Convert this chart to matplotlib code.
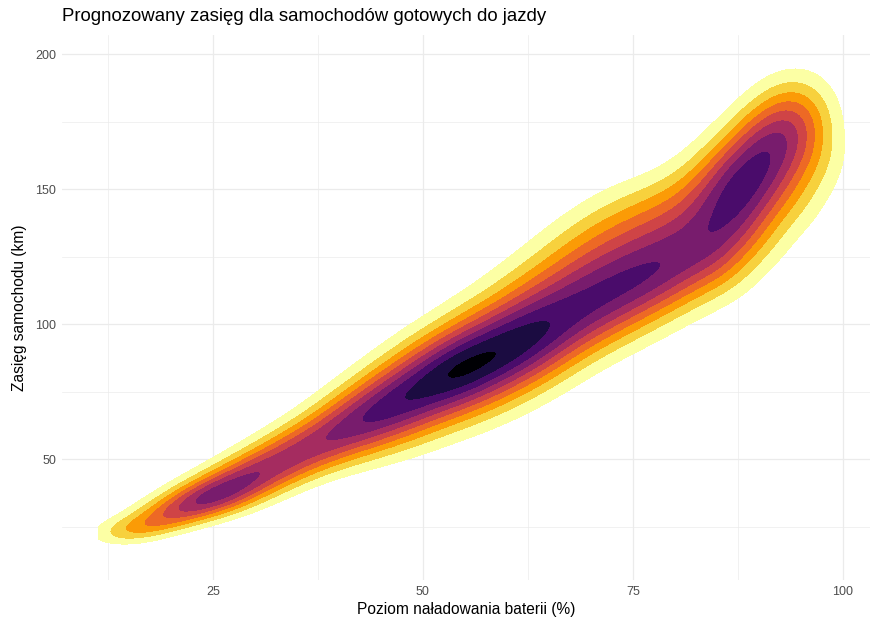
import numpy as np
import matplotlib.pyplot as plt

plt.rcParams['font.family'] = ['Liberation Sans', 'DejaVu Sans']

# skupiska obserwacji: poziom baterii, zasięg, liczność, rozrzut zasięgu
obs_x = [14, 16.5, 19, 21.5, 24, 26.5, 29, 31.5, 34, 36.5, 39, 41.5, 44, 46.5,
         49, 51.5, 54, 56.5, 59, 61.5, 64, 66.5, 69, 71.5, 74, 76.5, 79, 81.5,
         84, 86, 88, 90, 92, 94, 96,
         56, 60, 63.5, 67, 70.5, 74, 78, 82, 86, 90, 93.5,
         86, 90, 94, 97]
obs_y = [21.5, 25, 28.5, 32, 35.5, 39, 43, 47, 51, 55, 59, 63, 67, 71,
         75, 79, 82.5, 85.5, 89, 92.5, 96.5, 101, 105.5, 109.5, 113.5, 117.5, 121.5, 125,
         131, 140, 149, 157, 164, 171, 177,
         100, 108, 115, 123, 130, 136, 141, 148, 157, 168, 178,
         122, 133, 146, 160]
obs_w = [0.35, 0.52, 0.61, 0.76, 0.90, 0.89, 0.82, 0.72, 0.68, 0.67, 0.68, 0.74, 0.79, 0.82,
         0.84, 0.87, 0.95, 0.88, 0.86, 0.84, 0.80, 0.74, 0.70, 0.70, 0.70, 0.70, 0.68, 0.64,
         0.62, 0.70, 0.72, 0.65, 0.50, 0.42, 0.30,
         0.10, 0.18, 0.26, 0.33, 0.36, 0.38, 0.40, 0.40, 0.38, 0.36, 0.33,
         0.25, 0.28, 0.28, 0.22]
obs_sy = [3, 3, 3.5, 4, 4.5, 5, 5.5, 6, 6.5, 7, 7.8, 8.6, 9.5, 10.3,
          11, 11.5, 11.5, 12, 12, 12, 12, 12, 12, 12, 12, 12, 12, 12,
          12, 12, 12, 12, 12, 12, 12,
          11, 11, 11, 11, 11, 11, 10, 10, 10, 10, 10,
          10, 10, 10, 10]

x_range = (11.4, 101.5)
y_range = (14.4, 197.8)

gx, gy = np.meshgrid(np.linspace(*x_range, 320), np.linspace(*y_range, 320))
dens = np.zeros_like(gx)
sx = 3.0
for x0, y0, w, sy in zip(obs_x, obs_y, obs_w, obs_sy):
    dens += w * np.exp(-0.5 * (((gx - x0) / sx) ** 2 + ((gy - y0) / sy) ** 2))
dens /= dens.max()

step = 1 / 10.2
levels = [step * k for k in range(1, 11)] + [1.01]
colors = plt.cm.inferno(np.linspace(1, 0, 10))

fig = plt.figure(figsize=(8.73, 6.17), dpi=100)
ax = fig.add_axes([0.071, 0.06, 0.925, 0.883])
ax.contourf(gx, gy, dens, levels=levels, colors=colors, zorder=2)

ax.set_xlim(7.0, 103.2)
ax.set_ylim(5.2, 207)
ax.set_xticks([25, 50, 75, 100])
ax.set_yticks([50, 100, 150, 200])
ax.set_xticks([12.5, 37.5, 62.5, 87.5], minor=True)
ax.set_yticks([25, 75, 125, 175], minor=True)
ax.grid(True, which='major', color='#EBEBEB', linewidth=0.9, zorder=0)
ax.grid(True, which='minor', color='#EBEBEB', linewidth=0.5, zorder=0)
ax.set_axisbelow(True)
for s in ax.spines.values():
    s.set_visible(False)
ax.tick_params(which='both', length=0, labelsize=9, labelcolor='#4D4D4D', pad=4)

ax.set_xlabel('Poziom naładowania baterii (%)', fontsize=11.2, labelpad=3)
ax.set_ylabel('Zasięg samochodu (km)', fontsize=11.2, labelpad=6)
ax.set_title('Prognozowany zasięg dla samochodów gotowych do jazdy',
             fontsize=13.4, loc='left', pad=10)

fig.savefig('out.png', dpi=100)
